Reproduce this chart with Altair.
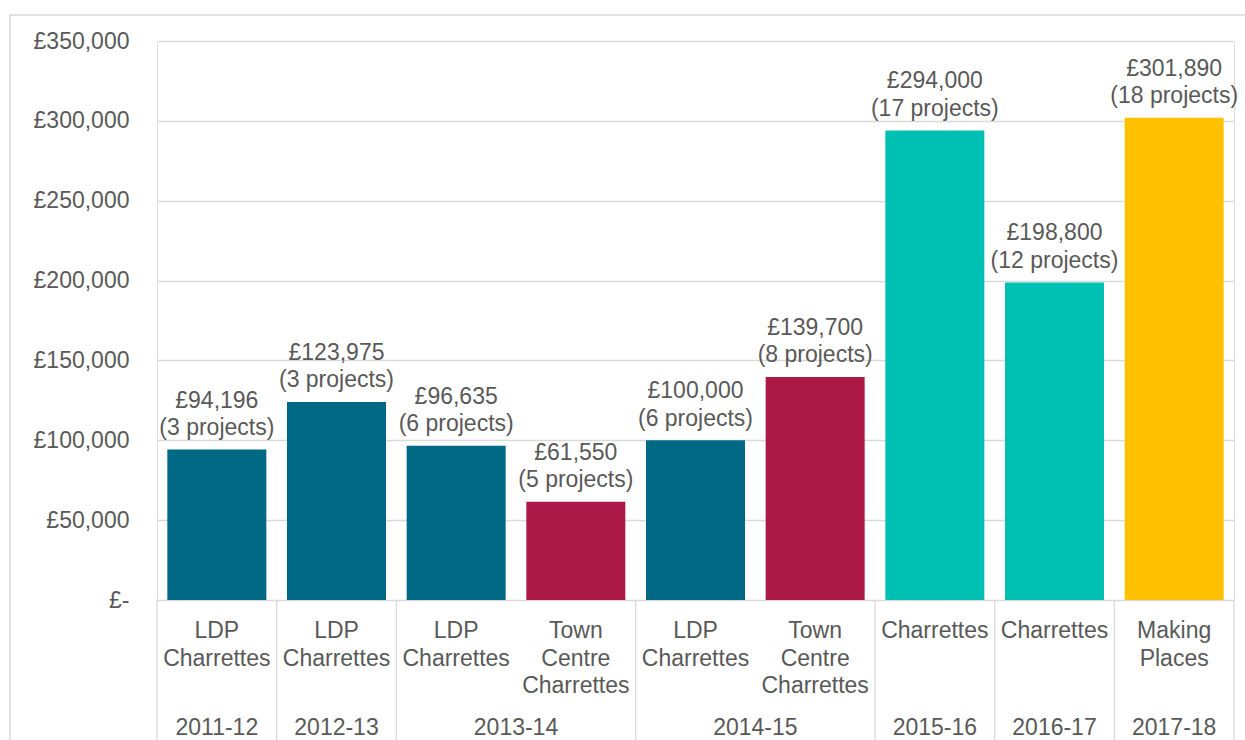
import altair as alt
import pandas as pd

years = ["2011-12", "2012-13", "2013-14", "2013-14", "2014-15", "2014-15",
         "2015-16", "2016-17", "2017-18"]
categories = ["LDP\nCharrettes", "LDP\nCharrettes", "LDP\nCharrettes",
              "Town\nCentre\nCharrettes", "LDP\nCharrettes", "Town\nCentre\nCharrettes",
              "Charrettes", "Charrettes", "Making\nPlaces"]
kinds = ["LDP", "LDP", "LDP", "Town Centre", "LDP", "Town Centre",
         "Charrettes", "Charrettes", "Making Places"]
values = [94196, 123975, 96635, 61550, 100000, 139700, 294000, 198800, 301890]
projects = [3, 3, 6, 5, 6, 8, 17, 12, 18]

kind_domain = ["LDP", "Town Centre", "Charrettes", "Making Places"]
kind_colors = ["#006A86", "#AC1948", "#00BFB3", "#FFC000"]

FONT = "Liberation Sans"
GREY = "#595959"
LINE = "#D9D9D9"
W, H = 1077, 559

df = pd.DataFrame({
    "idx": list(range(len(values))),
    "year": years,
    "cat": categories,
    "kind": kinds,
    "value": values,
    "projects": projects,
})
df["label"] = [f"£{v:,}\n({p} projects)" for v, p in zip(values, projects)]

g = df.groupby("year", sort=False)["idx"].agg(["min", "max"]).reset_index()
groups = pd.DataFrame({
    "year": g["year"],
    "start": g["min"],
    "end": g["max"] + 1,
})
groups["mid"] = (groups["start"] + groups["end"]) / 2
bounds = pd.DataFrame({"b": sorted(set(groups["start"].tolist() + groups["end"].tolist()))})

xscale = alt.Scale(domain=[0, len(values)], nice=False, zero=False, padding=0)

base = alt.Chart(df).transform_calculate(c="datum.idx + 0.5")

frame = alt.Chart(alt.Data(values=[{}])).mark_rect(
    fillOpacity=0, stroke=LINE, strokeWidth=1.5
).encode(
    x=alt.value(-147), y=alt.value(-26), x2=alt.value(W + 60), y2=alt.value(H + 300)
)

bars = base.mark_bar(size=99).encode(
    x=alt.X("c:Q", scale=xscale, axis=None),
    y=alt.Y("value:Q",
            scale=alt.Scale(domain=[0, 350000], nice=False),
            axis=alt.Axis(
                values=list(range(0, 350001, 50000)),
                labelExpr="datum.value == 0 ? '£-' : '£' + format(datum.value, ',')",
                labelFont=FONT, labelFontSize=23, labelColor=GREY,
                labelPadding=28, ticks=False, domain=False,
                gridColor=LINE, gridWidth=1.3, title=None,
            )),
    color=alt.Color("kind:N", scale=alt.Scale(domain=kind_domain, range=kind_colors),
                    legend=None),
)

labels = base.mark_text(
    baseline="bottom", dy=-37, lineBreak="\n", fontSize=23, font=FONT,
    color=GREY, lineHeight=27.5
).encode(
    x=alt.X("c:Q", scale=xscale),
    y=alt.Y("value:Q"),
    text="label:N",
)

catlabels = base.mark_text(
    baseline="top", lineBreak="\n", fontSize=23, font=FONT, color=GREY, lineHeight=27.5
).encode(
    x=alt.X("c:Q", scale=xscale),
    y=alt.value(H + 20),
    text="cat:N",
)

yearlabels = alt.Chart(groups).mark_text(
    baseline="top", fontSize=23, font=FONT, color=GREY
).encode(
    x=alt.X("mid:Q", scale=xscale),
    y=alt.value(H + 117),
    text="year:N",
)

seps = alt.Chart(bounds).mark_rule(color=LINE, strokeWidth=1.3).encode(
    x=alt.X("b:Q", scale=xscale),
    y=alt.value(H),
    y2=alt.value(H + 200),
)

chart = alt.layer(frame, bars, labels, catlabels, yearlabels, seps).properties(
    width=W, height=H,
    padding={"left": 157, "top": 41, "right": 11, "bottom": 140},
    autosize=alt.AutoSizeParams(type="none"),
).configure_view(stroke=None).configure(background="white")

chart.save("out.html", embed_options={"renderer": "svg", "actions": False})
